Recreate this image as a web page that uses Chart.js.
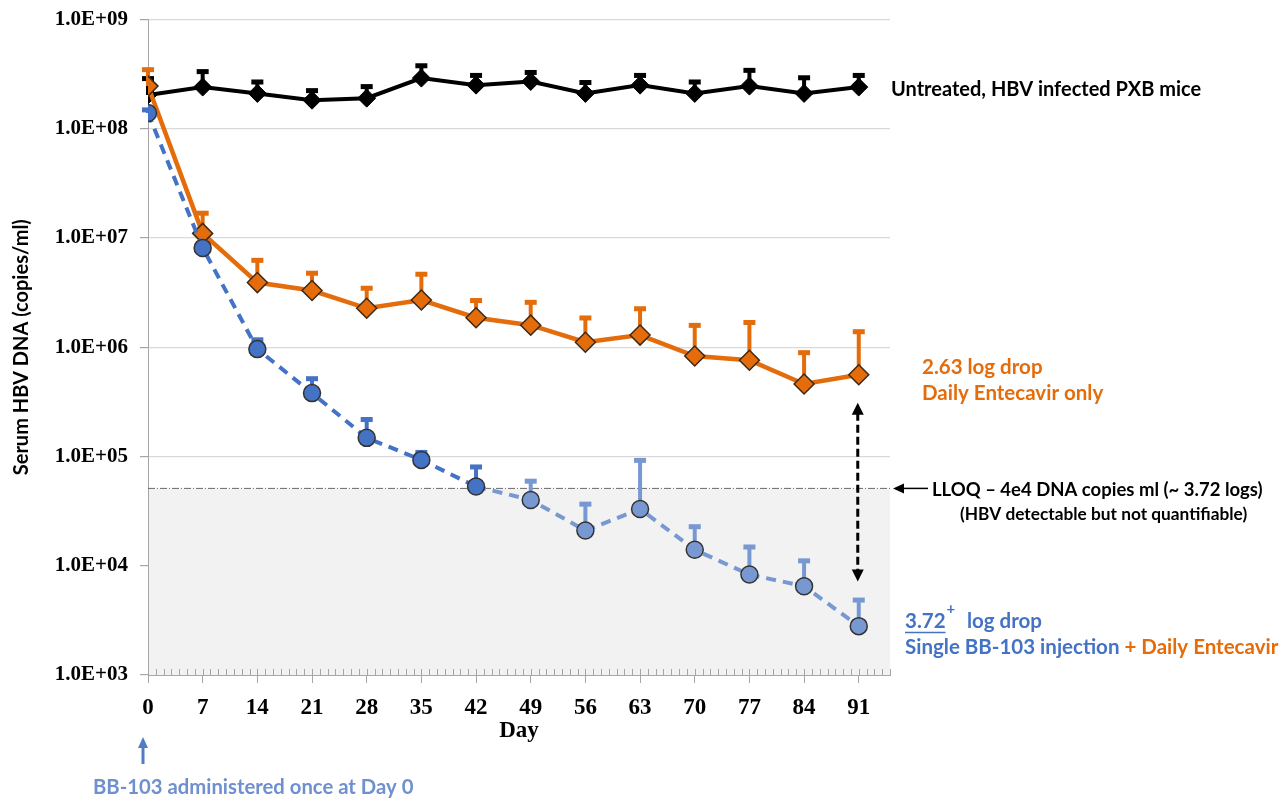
<!DOCTYPE html>
<html>
<head>
<meta charset="utf-8">
<script src="https://cdn.jsdelivr.net/npm/chart.js@4.4.1/dist/chart.umd.min.js"></script>
<style>
  html, body { margin: 0; padding: 0; background: #fff; }
  #wrap { width: 1280px; height: 800px; position: relative; }
</style>
</head>
<body>
<div id="wrap"><canvas id="hbvChart"></canvas></div>
<script>
// sampling days and axis ticks
const days = [0, 7, 14, 21, 28, 35, 42, 49, 56, 63, 70, 77, 84, 91];
const dayTicks = [0, 7, 14, 21, 28, 35, 42, 49, 56, 63, 70, 77, 84, 91];
const decadeTicks = [1e3, 1e4, 1e5, 1e6, 1e7, 1e8, 1e9];

// serum HBV DNA, copies/ml (mean and upper error bar)
const untreated   = [2.03e8, 2.4e8, 2.1e8, 1.82e8, 1.9e8, 2.9e8, 2.5e8, 2.7e8, 2.1e8, 2.5e8, 2.1e8, 2.45e8, 2.1e8, 2.4e8];
const untreatedHi = [2.9e8, 3.36e8, 2.7e8, 2.25e8, 2.45e8, 3.8e8, 3.1e8, 3.3e8, 2.67e8, 3.1e8, 2.7e8, 3.45e8, 2.95e8, 3.1e8];
const entecavir   = [2.45e8, 1.1e7, 3.9e6, 3.3e6, 2.27e6, 2.7e6, 1.86e6, 1.59e6, 1.11e6, 1.29e6, 8.3e5, 7.6e5, 4.6e5, 5.6e5];
const entecavirHi = [3.5e8, 1.7e7, 6.3e6, 4.8e6, 3.5e6, 4.7e6, 2.7e6, 2.6e6, 1.87e6, 2.27e6, 1.6e6, 1.7e6, 9.0e5, 1.4e6];
const bb103       = [1.39e8, 8.1e6, 9.6e5, 3.8e5, 1.48e5, 9.3e4, 5.3e4, 4.0e4, 2.1e4, 3.3e4, 1.4e4, 8.3e3, 6.5e3, 2.8e3];
const bb103Hi     = [1.5e8, 9.0e6, 1.18e6, 5.2e5, 2.2e5, 1.1e5, 8.1e4, 6.0e4, 3.7e4, 9.3e4, 2.3e4, 1.5e4, 1.12e4, 4.9e3];

const lloqValue = 5.1e4;
const xMax = 95;

const ORANGE = '#E46C0A';
const BLUE = '#4472C4';
const BLUE_LIGHT = '#7898D2';
const annoFont = 'Lato, "Open Sans", sans-serif';
const serif = '"Liberation Serif", "Times New Roman", serif';

const toPoints = (vals) => days.map((d, i) => ({ x: d, y: vals[i] }));
const blueFor = (v) => v < lloqValue ? BLUE_LIGHT : BLUE;

const extras = {
  id: 'extras',
  beforeDatasetsDraw(chart) {
    const { ctx, chartArea: a, scales: { y } } = chart;
    // grey zone below LLOQ
    const ly = y.getPixelForValue(lloqValue);
    ctx.save();
    ctx.fillStyle = '#f2f2f2';
    ctx.fillRect(a.left + 1, ly, a.right - a.left - 1, a.bottom - ly);
    ctx.strokeStyle = '#6a6a6a';
    ctx.lineWidth = 1;
    ctx.setLineDash([7, 2, 1, 2]);
    ctx.beginPath();
    ctx.moveTo(a.left, ly);
    ctx.lineTo(a.right, ly);
    ctx.stroke();
    ctx.restore();

    // error bars (upper only)
    chart.data.datasets.forEach((ds, i) => {
      const meta = chart.getDatasetMeta(i);
      meta.data.forEach((pt, j) => {
        const top = y.getPixelForValue(ds.errHi[j]);
        const col = ds.errColor(ds.data[j].y);
        ctx.save();
        ctx.strokeStyle = col;
        ctx.fillStyle = col;
        ctx.lineWidth = 4;
        ctx.beginPath();
        ctx.moveTo(pt.x, pt.y);
        ctx.lineTo(pt.x, top);
        ctx.stroke();
        ctx.fillRect(pt.x - 6, top - 2, 12, 5);
        ctx.restore();
      });
    });
  },
  afterDraw(chart) {
    const { ctx, chartArea: a, scales: { x, y } } = chart;
    ctx.save();

    // minor day ticks on the x axis
    ctx.strokeStyle = '#a6a6a6';
    ctx.lineWidth = 1;
    ctx.beginPath();
    for (let d = 0; d <= xMax; d++) {
      const px = Math.round(x.getPixelForValue(d)) + 0.5;
      ctx.moveTo(px, a.bottom);
      ctx.lineTo(px, a.bottom - 6);
    }
    ctx.stroke();

    ctx.textBaseline = 'alphabetic';
    ctx.textAlign = 'left';

    // right side labels
    ctx.font = 'bold 20px ' + annoFont;
    ctx.fillStyle = '#000';
    ctx.fillText('Untreated, HBV infected PXB mice', 891, 96);

    ctx.font = 'bold 20.5px ' + annoFont;
    ctx.fillStyle = ORANGE;
    ctx.fillText('2.63 log drop', 922, 374);
    ctx.fillText('Daily Entecavir only', 922, 400);

    // LLOQ arrow and note
    const ly = y.getPixelForValue(lloqValue);
    ctx.strokeStyle = '#000';
    ctx.fillStyle = '#000';
    ctx.lineWidth = 1.5;
    ctx.beginPath();
    ctx.moveTo(928, ly);
    ctx.lineTo(900, ly);
    ctx.stroke();
    ctx.beginPath();
    ctx.moveTo(893, ly);
    ctx.lineTo(904, ly - 5);
    ctx.lineTo(904, ly + 5);
    ctx.closePath();
    ctx.fill();
    ctx.font = 'bold 18.5px ' + annoFont;
    ctx.fillText('LLOQ \u2013 4e4 DNA copies ml (~ 3.72 logs)', 932, ly + 8);
    ctx.font = 'bold 17.3px ' + annoFont;
    ctx.fillText('(HBV detectable but not quantifiable)', 960, ly + 32);

    // BB-103 labels
    ctx.font = 'bold 20.5px ' + annoFont;
    ctx.fillStyle = BLUE;
    ctx.fillText('3.72', 905, 628);
    const w372 = ctx.measureText('3.72').width;
    ctx.strokeStyle = BLUE;
    ctx.lineWidth = 1.5;
    ctx.beginPath();
    ctx.moveTo(905, 632.5);
    ctx.lineTo(905 + w372, 632.5);
    ctx.stroke();
    ctx.font = 'bold 15px ' + annoFont;
    ctx.fillText('+', 905 + w372 + 1, 614);
    ctx.font = 'bold 20.5px ' + annoFont;
    ctx.fillText('log drop', 967, 628);
    const part1 = 'Single BB-103 injection ';
    ctx.fillText(part1, 905, 654);
    ctx.fillStyle = ORANGE;
    ctx.fillText('+ Daily Entecavir', 905 + ctx.measureText(part1).width, 654);

    // dashed double arrow between day 91 points
    const ax = x.getPixelForValue(days[days.length - 1]) - 1;
    const aTop = y.getPixelForValue(entecavir[entecavir.length - 1]) + 28;
    const aBot = y.getPixelForValue(bb103Hi[bb103Hi.length - 1]) - 18;
    ctx.strokeStyle = '#000';
    ctx.fillStyle = '#000';
    ctx.lineWidth = 3;
    ctx.setLineDash([8, 4]);
    ctx.beginPath();
    ctx.moveTo(ax, aTop + 10);
    ctx.lineTo(ax, aBot - 10);
    ctx.stroke();
    ctx.setLineDash([]);
    ctx.beginPath();
    ctx.moveTo(ax, aTop);
    ctx.lineTo(ax - 6, aTop + 12);
    ctx.lineTo(ax + 6, aTop + 12);
    ctx.closePath();
    ctx.fill();
    ctx.beginPath();
    ctx.moveTo(ax, aBot);
    ctx.lineTo(ax - 6, aBot - 12);
    ctx.lineTo(ax + 6, aBot - 12);
    ctx.closePath();
    ctx.fill();

    // day 0 dosing note
    const bx = x.getPixelForValue(0) - 5;
    ctx.strokeStyle = '#4F7CC4';
    ctx.fillStyle = '#4F7CC4';
    ctx.lineWidth = 3;
    ctx.beginPath();
    ctx.moveTo(bx, 764);
    ctx.lineTo(bx, 746);
    ctx.stroke();
    ctx.beginPath();
    ctx.moveTo(bx, 737);
    ctx.lineTo(bx - 5, 748);
    ctx.lineTo(bx + 5, 748);
    ctx.closePath();
    ctx.fill();
    ctx.font = 'bold 20.3px ' + annoFont;
    ctx.fillStyle = '#6F90CF';
    ctx.fillText('BB-103 administered once at Day 0', 93, 794);

    ctx.restore();
  }
};

new Chart(document.getElementById('hbvChart'), {
  type: 'line',
  data: {
    datasets: [
      {
        label: 'Untreated, HBV infected PXB mice',
        data: toPoints(untreated),
        errHi: untreatedHi,
        errColor: () => '#000',
        borderColor: '#000',
        borderWidth: 4,
        pointStyle: 'rectRot',
        pointRadius: 9,
        pointBackgroundColor: '#000',
        pointBorderColor: '#000',
        pointBorderWidth: 1,
        order: 3
      },
      {
        label: 'Daily Entecavir only',
        data: toPoints(entecavir),
        errHi: entecavirHi,
        errColor: () => ORANGE,
        borderColor: ORANGE,
        borderWidth: 4.5,
        pointStyle: 'rectRot',
        pointRadius: 10,
        pointBackgroundColor: ORANGE,
        pointBorderColor: '#3a2a1a',
        pointBorderWidth: 1.5,
        order: 2
      },
      {
        label: 'Single BB-103 injection + Daily Entecavir',
        data: toPoints(bb103),
        errHi: bb103Hi,
        errColor: blueFor,
        borderColor: BLUE,
        borderWidth: 4,
        borderDash: [10, 7],
        segment: { borderColor: (c) => blueFor(c.p1.parsed.y) },
        pointStyle: 'circle',
        pointRadius: 8.5,
        pointBackgroundColor: (c) => blueFor(c.raw ? c.raw.y : 1e9),
        pointBorderColor: '#333',
        pointBorderWidth: 1.5,
        order: 1
      }
    ]
  },
  options: {
    responsive: true,
    maintainAspectRatio: false,
    animation: false,
    layout: { padding: { top: 0, right: 390, bottom: 0, left: 0 } },
    plugins: {
      legend: { display: false },
      tooltip: { enabled: false }
    },
    scales: {
      x: {
        type: 'linear',
        min: 0,
        max: xMax,
        afterBuildTicks: (s) => { s.ticks = dayTicks.map(v => ({ value: v })); },
        afterFit: (s) => { s.height = 125; },
        border: { color: '#a6a6a6', width: 1 },
        grid: { drawOnChartArea: false, tickLength: 8, color: '#a6a6a6' },
        ticks: {
          padding: 11,
          color: '#000',
          maxRotation: 0,
          autoSkip: false,
          font: { family: serif, size: 23, weight: 'bold' }
        },
        title: {
          display: true,
          text: 'Day',
          color: '#000',
          padding: { top: 0, bottom: 55 },
          font: { family: serif, size: 23, weight: 'bold' }
        }
      },
      y: {
        type: 'logarithmic',
        min: 1e3,
        max: 1e9,
        afterBuildTicks: (s) => { s.ticks = decadeTicks.map(v => ({ value: v })); },
        afterFit: (s) => { s.width = 148; },
        border: { color: '#a6a6a6', width: 1 },
        grid: { color: '#d9d9d9', tickColor: '#a6a6a6', tickLength: 8, lineWidth: 1.2 },
        ticks: {
          padding: 12,
          color: '#000',
          font: { family: serif, size: 21, weight: 'bold', lineHeight: 0.7 },
          callback: (v) => {
            const e = Math.round(Math.log10(v));
            return '1.0E+' + String(e).padStart(2, '0');
          }
        },
        title: {
          display: true,
          text: 'Serum HBV DNA (copies/ml)',
          color: '#000',
          padding: { top: 10, bottom: 0 },
          font: { family: annoFont, size: 20, weight: 'bold' }
        }
      }
    }
  },
  plugins: [extras]
});
</script>
</body>
</html>
